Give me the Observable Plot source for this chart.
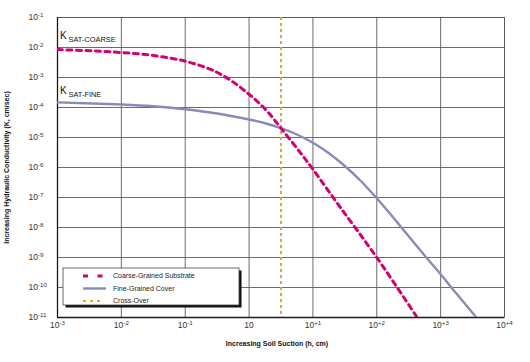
<!DOCTYPE html>
<html><head><meta charset="utf-8">
<script src="https://cdn.jsdelivr.net/npm/d3@7"></script>
<script src="https://cdn.jsdelivr.net/npm/@observablehq/plot@0.6"></script>
<style>
body{margin:0;background:#fff;}
#chart{width:530px;height:362px;}
</style></head><body><div id="chart"></div>
<script>
// ---- data ----
const xTicks = [1e-3, 1e-2, 1e-1, 1, 10, 100, 1000, 10000];
const xTickLabels = ["10^-3", "10^-2", "10^-1", "10", "10^+1", "10^+2", "10^+3", "10^+4"];
const yTicks = [1e-1, 1e-2, 1e-3, 1e-4, 1e-5, 1e-6, 1e-7, 1e-8, 1e-9, 1e-10, 1e-11];
const yTickLabels = ["10^-1", "10^-2", "10^-3", "10^-4", "10^-5", "10^-6", "10^-7", "10^-8", "10^-9", "10^-10", "10^-11"];

const coarseH = [1e-3, 3.2e-3, 1e-2, 3.2e-2, 0.1, 0.25, 0.37, 0.57, 0.87, 1.32, 2.0, 3.16, 6.3, 10, 26.3, 100, 417];
const coarseK = [8.5e-3, 7.8e-3, 6.8e-3, 5.4e-3, 3.5e-3, 1.86e-3, 1.23e-3, 6.9e-4, 3.5e-4, 1.66e-4, 6.8e-5, 2.04e-5, 3.2e-6, 8.7e-7, 5.0e-8, 1e-9, 1.1e-11];

const fineH = [1e-3, 1e-2, 3.16e-2, 0.1, 0.316, 1, 1.78, 3.16, 5.62, 10, 17.8, 31.6, 56.2, 100, 178, 316, 562, 1000, 1780, 3630];
const fineK = [1.48e-4, 1.26e-4, 1.1e-4, 8.7e-5, 6.3e-5, 3.98e-5, 2.99e-5, 2.04e-5, 1.26e-5, 6.68e-6, 2.99e-6, 1.12e-6, 3.55e-7, 9.4e-8, 2.24e-8, 5.13e-9, 1.17e-9, 2.75e-10, 6.17e-11, 1e-11];

const crossOverH = [3.16];

const seriesNames = ["Coarse-Grained Substrate", "Fine-Grained Cover", "Cross-Over"];
const seriesColors = ["#d4006f", "#8c88bb", "#f0a21e"];
const curveSubscripts = ["SAT-COARSE", "SAT-FINE"];
const xTitle = "Increasing Soil Suction (h, cm)";
const yTitle = "Increasing Hydraulic Conductivity (K, cm/sec)";

// ---- build tables ----
const coarse = coarseH.map((h, i) => ({h, k: coarseK[i]}));
const fine = fineH.map((h, i) => ({h, k: fineK[i]}));

const font = "'Liberation Sans', Arial, Helvetica, sans-serif";
const gridStroke = "#5a5a5a";

const chart = Plot.plot({
  width: 530, height: 362,
  marginLeft: 57, marginRight: 26, marginTop: 17, marginBottom: 45,
  style: {fontFamily: font, background: "#fff", overflow: "visible"},
  x: {type: "log", domain: [1e-3, 1e4]},
  y: {type: "log", domain: [1e-11, 1e-1]},
  marks: [
    Plot.gridX(xTicks, {stroke: gridStroke, strokeOpacity: 1, strokeWidth: 0.9}),
    Plot.gridY(yTicks, {stroke: gridStroke, strokeOpacity: 1, strokeWidth: 0.9}),
    Plot.frame({stroke: gridStroke, strokeWidth: 0.9}),
    Plot.ruleX([xTicks[0]], {stroke: "#1a1a1a", strokeWidth: 1.3}),
    Plot.ruleY([yTicks[yTicks.length - 1]], {stroke: "#1a1a1a", strokeWidth: 1.3}),
    Plot.ruleX(crossOverH, {stroke: seriesColors[2], strokeWidth: 2, strokeDasharray: "3,3"}),
    Plot.line(fine, {x: "h", y: "k", stroke: seriesColors[1], strokeWidth: 2.4, curve: "catmull-rom", clip: true}),
    Plot.line(coarse, {x: "h", y: "k", stroke: seriesColors[0], strokeWidth: 3, strokeDasharray: "5,4.5", curve: "catmull-rom", clip: true}),
    Plot.axisX(xTicks, {anchor: "bottom", tickSize: 0, tickPadding: 4, fontSize: 8.5, fill: "#333",
      tickFormat: d => xTickLabels[xTicks.indexOf(d)], label: null}),
    Plot.axisY(yTicks, {anchor: "left", tickSize: 0, tickPadding: 3, fontSize: 8.5, fill: "#333",
      textAnchor: "start", dx: -26,
      tickFormat: d => yTickLabels[yTicks.indexOf(d)], label: null}),
    Plot.text([xTitle], {frameAnchor: "bottom", dy: 26, dx: -4, fontSize: 7, fontWeight: "bold", fill: "#111", lineAnchor: "middle"}),
    Plot.text([yTitle], {frameAnchor: "left", dx: -51, rotate: -90, fontSize: 7, fontWeight: "bold", fill: "#111", lineAnchor: "middle", textAnchor: "middle"}),
    // curve labels anchored to the first point of each series
    Plot.text([coarse[0]], {x: "h", y: "k", text: () => "K", textAnchor: "start", dx: 2.5, dy: -14, fontSize: 10, fill: "#111"}),
    Plot.text([coarse[0]], {x: "h", y: "k", text: () => curveSubscripts[0], textAnchor: "start", dx: 11, dy: -9.5, fontSize: 7.4, fill: "#111"}),
    Plot.text([fine[0]], {x: "h", y: "k", text: () => "K", textAnchor: "start", dx: 2.5, dy: -11.5, fontSize: 10, fill: "#111"}),
    Plot.text([fine[0]], {x: "h", y: "k", text: () => curveSubscripts[1], textAnchor: "start", dx: 11, dy: -8, fontSize: 7.4, fill: "#111"})
  ]
});

document.getElementById("chart").appendChild(chart);

// superscript exponents in tick labels
d3.select(chart).selectAll("g[aria-label='x-axis tick label'] text, g[aria-label='y-axis tick label'] text").each(function () {
  const s = this.textContent;
  if (s.includes("^")) {
    const [base, exp] = s.split("^");
    this.textContent = base;
    d3.select(this).append("tspan").attr("dy", "-0.45em").attr("font-size", "6.2px").text(exp);
  }
});

// legend (drawn over the plot area, like the reference)
const svg = d3.select(chart);
const lg = svg.append("g").attr("font-family", font).attr("text-anchor", "start");
const bx = 63, by = 268, bw = 176, bh = 37;
lg.append("rect").attr("x", bx + 2.5).attr("y", by + 2.5).attr("width", bw).attr("height", bh).attr("fill", "#111");
lg.append("rect").attr("x", bx).attr("y", by).attr("width", bw).attr("height", bh).attr("fill", "#fff").attr("stroke", "#444").attr("stroke-width", 0.8);
const rows = [276, 288.5, 301];
const dashes = ["5,9.5", null, "3,4"];
const widths = [3, 2.4, 2];
seriesNames.forEach((name, i) => {
  const ln = lg.append("line").attr("x1", 83).attr("x2", i === 1 ? 106 : 104).attr("y1", rows[i]).attr("y2", rows[i])
    .attr("stroke", seriesColors[i]).attr("stroke-width", widths[i]);
  if (dashes[i]) ln.attr("stroke-dasharray", dashes[i]);
  lg.append("text").attr("x", 113).attr("y", rows[i]).attr("dy", "0.35em").attr("text-anchor", "start")
    .attr("font-size", 7).attr("fill", "#222").text(name);
});
</script>
</body></html>
